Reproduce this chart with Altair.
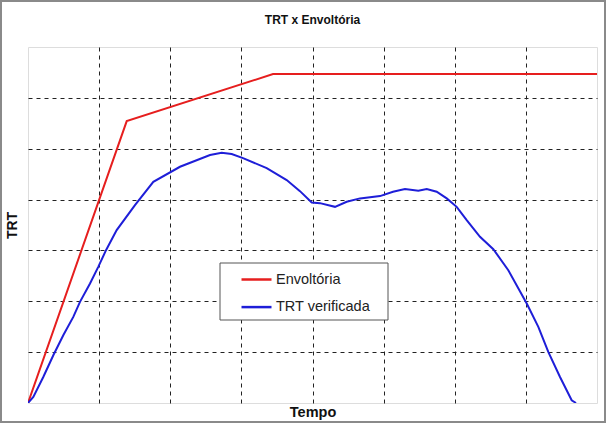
import altair as alt
import pandas as pd

# Envoltória (red envelope)
env_x = [0.0, 1.388, 3.445, 8.0]
env_y = [0.0, 5.544, 6.467, 6.467]

# TRT verificada (blue measured curve)
trt_x = [0.0, 0.075, 0.215, 0.356, 0.496, 0.637, 0.731, 0.872, 0.988, 1.097,
         1.247, 1.504, 1.762, 2.137, 2.559, 2.723, 2.864, 3.023, 3.356, 3.637,
         3.824, 3.989, 4.105, 4.316, 4.481, 4.668, 4.949, 5.132, 5.300, 5.488,
         5.606, 5.746, 5.887, 6.027, 6.168, 6.355, 6.542, 6.753, 7.012, 7.175,
         7.315, 7.480, 7.644, 7.705]
trt_y = [0.0, 0.118, 0.512, 0.939, 1.332, 1.693, 1.988, 2.350, 2.677, 3.005,
         3.399, 3.891, 4.349, 4.645, 4.875, 4.920, 4.895, 4.816, 4.619, 4.383,
         4.166, 3.944, 3.930, 3.857, 3.956, 4.023, 4.068, 4.153, 4.206, 4.172,
         4.206, 4.153, 4.023, 3.857, 3.596, 3.267, 3.025, 2.612, 1.956, 1.496,
         1.004, 0.512, 0.053, 0.0]

series_names = ["Envoltória", "TRT verificada"]
series_colors = ["#e61e1e", "#1e1ed8"]

rows = []
for i, (x, y) in enumerate(zip(env_x, env_y)):
    rows.append({"serie": series_names[0], "t": x, "v": y, "o": i})
for i, (x, y) in enumerate(zip(trt_x, trt_y)):
    rows.append({"serie": series_names[1], "t": x, "v": y, "o": i})
df = pd.DataFrame(rows)

lines = alt.Chart(df).mark_line(strokeWidth=2, clip=True).encode(
    x=alt.X("t:Q", scale=alt.Scale(domain=[0, 8], nice=False, zero=False),
            axis=alt.Axis(title="Tempo", values=[1, 2, 3, 4, 5, 6, 7],
                          labels=False, ticks=False, domain=False,
                          grid=True, gridColor="#222222", gridDash=[4, 4],
                          gridWidth=1, titlePadding=2,
                          titleFont="Liberation Sans", titleFontSize=14.5,
                          titleFontWeight="bold", titleColor="#111111")),
    y=alt.Y("v:Q", scale=alt.Scale(domain=[0, 7], nice=False, zero=False),
            axis=alt.Axis(title="TRT", values=[1, 2, 3, 4, 5, 6],
                          labels=False, ticks=False, domain=False,
                          grid=True, gridColor="#222222", gridDash=[4, 4],
                          gridWidth=1, titlePadding=9,
                          titleFont="Liberation Sans", titleFontSize=14,
                          titleFontWeight="bold", titleColor="#111111")),
    color=alt.Color("serie:N",
                    scale=alt.Scale(domain=series_names, range=series_colors),
                    legend=alt.Legend(title=None, orient="none",
                                      legendX=212, legendY=216,
                                      symbolType="stroke", symbolSize=900,
                                      symbolStrokeWidth=2.5, labelFontSize=14.5,
                                      labelFont="Liberation Sans",
                                      labelColor="#222222",
                                      rowPadding=4.6, padding=0,
                                      symbolOffset=0, labelOffset=3)),
    order="o:Q",
)

# legend box (decoration behind the legend entries)
legend_box = alt.Chart(pd.DataFrame({"a": [0]})).mark_rect(
    fill="white", stroke="#555555", strokeWidth=1, clip=False
).encode(
    x=alt.value(192), x2=alt.value(360), y=alt.value(216), y2=alt.value(273)
)

# outer frame of the figure
frame = alt.Chart(pd.DataFrame({"a": [0]})).mark_rect(
    fill=None, stroke="#8a8a8a", strokeWidth=2, clip=False
).encode(
    x=alt.value(-27), x2=alt.value(577), y=alt.value(-46), y2=alt.value(375)
)

chart = alt.layer(lines, legend_box, frame).properties(
    width=569, height=356,
    title=alt.TitleParams("TRT x Envoltória", fontSize=12, fontWeight="bold",
                          font="Liberation Sans", color="#111111",
                          anchor="middle", frame="group", baseline="alphabetic",
                          offset=-36),
    padding={"left": 28, "top": 47, "right": 9, "bottom": 20},
    autosize=alt.AutoSizeParams(type="none"),
).configure_view(
    stroke="#8c8c8c", strokeWidth=2
).configure(background="white")

chart.save("out.html", embed_options={"renderer": "svg", "actions": False})
